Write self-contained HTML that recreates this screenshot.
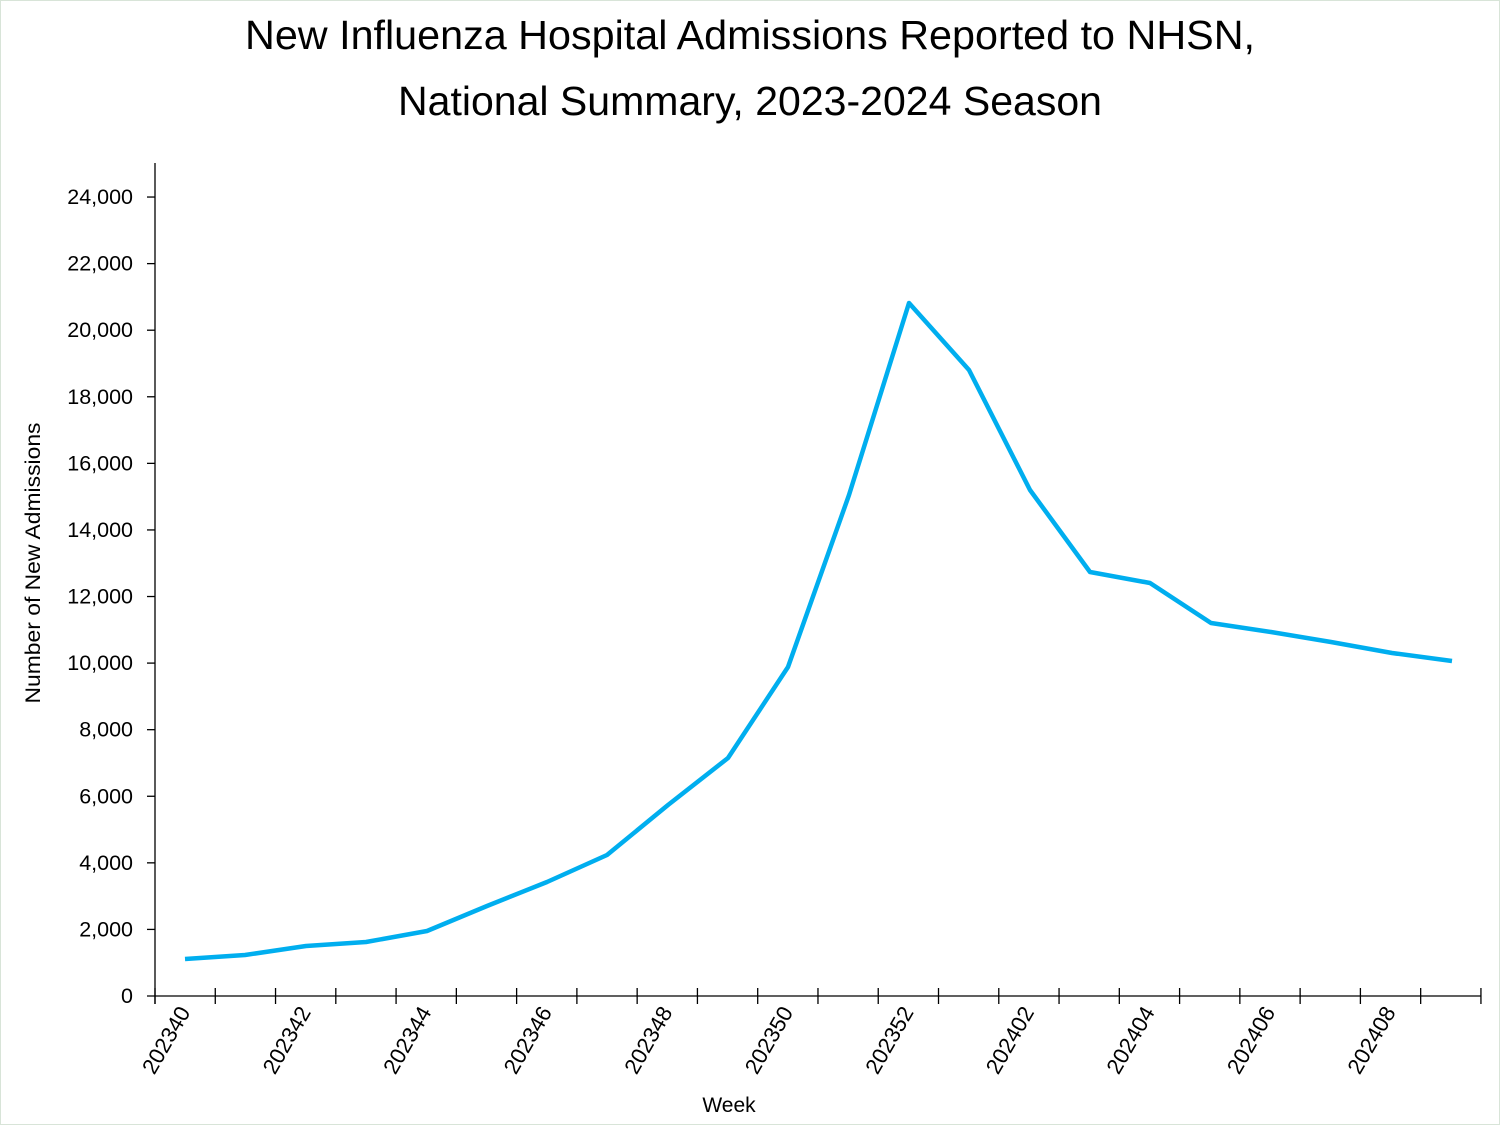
<!DOCTYPE html><html><head><style>body{margin:0;background:#fff}</style></head><body>
<svg width="1500" height="1125" xmlns="http://www.w3.org/2000/svg" font-family="Liberation Sans, sans-serif">
<rect x="0.5" y="0.5" width="1499" height="1124" fill="#fff" stroke="#d8e4d8"/>
<text x="750" y="49" font-size="41" text-anchor="middle" textLength="1010" lengthAdjust="spacingAndGlyphs">New Influenza Hospital Admissions Reported to NHSN,</text>
<text x="750" y="115" font-size="41" text-anchor="middle" textLength="704" lengthAdjust="spacingAndGlyphs">National Summary, 2023-2024 Season</text>
<g stroke="#000" stroke-width="1.3">
<line x1="155" y1="163" x2="155" y2="1004"/>
<line x1="147" y1="996" x2="1481" y2="996"/>
<g id="yt"></g>
</g>
<g font-size="21.5" text-anchor="end" id="yl"></g>
<g id="xt" stroke="#000" stroke-width="1.3"></g>
<g id="xl" font-size="22" text-anchor="end"></g>
<text x="729" y="1112" font-size="21" text-anchor="middle">Week</text>
<text transform="translate(40,563) rotate(-90)" font-size="21" text-anchor="middle" textLength="281" lengthAdjust="spacingAndGlyphs">Number of New Admissions</text>
<polyline fill="none" stroke="#00AEEF" stroke-width="4.5" stroke-linejoin="round" points="185,959 245,955 306,946 366,942 427,931 487,906 547,882 607,855 668,805 728,758 788,667 849,495 909,303 969,370 1030,490 1090,572 1150,583 1211,623 1271,632 1331,642 1392,653 1452,661"/>
</svg>
<script>
var ns="http://www.w3.org/2000/svg";
function el(p,t,a,tx){var e=document.createElementNS(ns,t);for(var k in a)e.setAttribute(k,a[k]);if(tx)e.textContent=tx;document.getElementById(p).appendChild(e);}
for(var i=0;i<=12;i++){var y=996-i*66.58;if(i>0)el("yt","line",{x1:147,y1:y,x2:155,y2:y});
el("yl","text",{x:133,y:y+7},(i*2000).toLocaleString("en-US"));}
var labs=["202340","202342","202344","202346","202348","202350","202352","202402","202404","202406","202408"];
for(var j=0;j<=22;j++){var x=155+j*60.27;el("xt","line",{x1:x,y1:988,x2:x,y2:1004});}
for(var j=0;j<11;j++){var x=185+j*2*60.27+6;el("xl","text",{x:x,y:1012,transform:"rotate(-60 "+x+" 1012)"},labs[j]);}
</script>
</body></html>
